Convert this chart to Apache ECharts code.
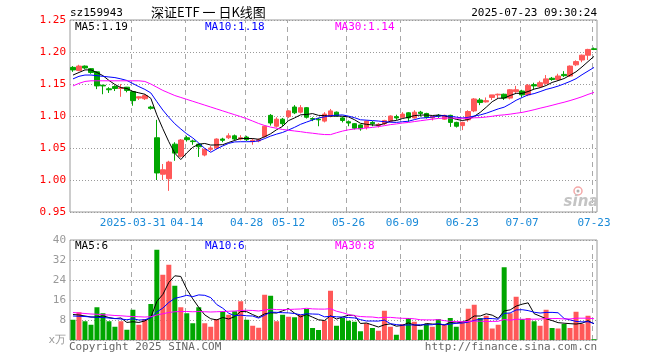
<!DOCTYPE html>
<html><head><meta charset="utf-8">
<script src="https://cdn.jsdelivr.net/npm/echarts@6/dist/echarts.min.js"></script>
<style>html,body{margin:0;padding:0;background:#fff}#c{width:660px;height:360px}</style>
</head><body><div id="c"></div>
<script>
const dates = [
'2025-03-17','2025-03-18','2025-03-19','2025-03-20','2025-03-21',
'2025-03-24','2025-03-25','2025-03-26','2025-03-27','2025-03-28',
'2025-03-31','2025-04-01','2025-04-02','2025-04-03',
'2025-04-07','2025-04-08','2025-04-09','2025-04-10','2025-04-11',
'2025-04-14','2025-04-15','2025-04-16','2025-04-17','2025-04-18',
'2025-04-21','2025-04-22','2025-04-23','2025-04-24','2025-04-25',
'2025-04-28','2025-04-29','2025-04-30',
'2025-05-06','2025-05-07','2025-05-08','2025-05-09',
'2025-05-12','2025-05-13','2025-05-14','2025-05-15','2025-05-16',
'2025-05-19','2025-05-20','2025-05-21','2025-05-22','2025-05-23',
'2025-05-26','2025-05-27','2025-05-28','2025-05-29','2025-05-30',
'2025-06-03','2025-06-04','2025-06-05','2025-06-06',
'2025-06-09','2025-06-10','2025-06-11','2025-06-12','2025-06-13',
'2025-06-16','2025-06-17','2025-06-18','2025-06-19','2025-06-20',
'2025-06-23','2025-06-24','2025-06-25','2025-06-26','2025-06-27',
'2025-06-30','2025-07-01','2025-07-02','2025-07-03','2025-07-04',
'2025-07-07','2025-07-08','2025-07-09','2025-07-10','2025-07-11',
'2025-07-14','2025-07-15','2025-07-16','2025-07-17','2025-07-18',
'2025-07-21','2025-07-22','2025-07-23'];

const opens = [1.176,1.171,1.178,1.174,1.169,1.148,1.1425,1.146,1.143,1.145,
1.138,1.128,1.127,1.114,1.066,1.009,1.002,1.056,1.037,1.066,
1.061,1.056,1.039,1.048,1.050,1.064,1.066,1.069,1.064,1.067,
1.060,1.061,1.068,1.101,1.084,1.095,1.099,1.114,1.106,1.113,
1.096,1.095,1.092,1.100,1.106,1.097,1.091,1.088,1.086,1.082,
1.090,1.085,1.088,1.092,1.099,1.098,1.105,1.097,1.106,1.104,
1.097,1.101,1.095,1.101,1.090,1.085,1.094,1.108,1.125,1.122,
1.129,1.133,1.134,1.128,1.138,1.139,1.133,1.149,1.146,1.151,
1.159,1.157,1.165,1.1625,1.180,1.1875,1.195,1.205];
const closes = [1.172,1.178,1.175,1.168,1.147,1.147,1.141,1.143,1.144,1.140,
1.124,1.130,1.132,1.112,1.011,1.016,1.028,1.042,1.0625,1.063,
1.060,1.052,1.048,1.050,1.064,1.062,1.069,1.064,1.066,1.063,
1.062,1.063,1.084,1.089,1.095,1.088,1.108,1.105,1.113,1.098,
1.095,1.094,1.103,1.108,1.100,1.093,1.089,1.081,1.080,1.092,
1.088,1.087,1.093,1.100,1.097,1.103,1.097,1.106,1.104,1.098,
1.099,1.100,1.101,1.090,1.084,1.090,1.107,1.1266,1.121,1.124,
1.133,1.134,1.128,1.141,1.141,1.133,1.148,1.147,1.152,1.158,
1.157,1.1625,1.163,1.178,1.185,1.195,1.204,1.204];
const lows = [1.169,1.170,1.173,1.166,1.142,1.134,1.136,1.139,1.130,1.137,
1.116,1.125,1.125,1.110,1.000,1.000,0.983,1.030,1.035,1.060,
1.055,1.036,1.037,1.045,1.048,1.059,1.064,1.062,1.062,1.061,
1.055,1.059,1.066,1.085,1.082,1.084,1.097,1.103,1.104,1.096,
1.092,1.084,1.090,1.098,1.099,1.090,1.084,1.079,1.077,1.079,
1.084,1.082,1.086,1.090,1.094,1.097,1.091,1.096,1.099,1.096,
1.093,1.097,1.094,1.083,1.082,1.078,1.091,1.106,1.117,1.121,
1.125,1.128,1.125,1.126,1.136,1.129,1.131,1.142,1.144,1.149,
1.155,1.155,1.161,1.161,1.178,1.184,1.1875,1.203];
const highs = [1.178,1.180,1.179,1.175,1.170,1.149,1.145,1.148,1.150,1.1455,
1.139,1.131,1.134,1.116,1.094,1.025,1.030,1.059,1.064,1.069,
1.063,1.057,1.049,1.053,1.065,1.066,1.073,1.071,1.070,1.069,
1.065,1.065,1.085,1.103,1.098,1.097,1.109,1.117,1.117,1.114,
1.098,1.097,1.106,1.111,1.107,1.099,1.093,1.089,1.087,1.093,
1.092,1.089,1.094,1.101,1.102,1.106,1.106,1.109,1.108,1.105,
1.100,1.103,1.102,1.102,1.091,1.091,1.109,1.128,1.128,1.129,
1.133,1.135,1.135,1.142,1.147,1.141,1.150,1.152,1.155,1.164,
1.161,1.166,1.170,1.179,1.187,1.196,1.205,1.207];
// volume, unit: 万
const volumes = [8.1,11.1,7.5,6.1,13.1,10.7,7.5,5.3,7.5,4.1,
12.1,6.1,8.4,14.4,36.1,26.1,30.1,21.7,13.1,10.7,
6.7,13.1,6.7,5.3,8.4,11.5,10.1,11.5,15.5,8.1,
5.7,4.9,18.1,17.7,7.5,10.1,9.3,9.1,10.1,12.4,
4.8,4.0,7.7,19.7,5.7,8.8,7.7,7.3,3.5,6.7,
4.8,3.7,11.7,5.3,2.1,6.4,8.8,7.3,4.1,6.4,
5.3,8.4,6.1,8.8,5.3,7.3,12.5,14.1,8.8,9.7,
4.6,6.1,29.1,10.7,17.3,8.4,8.8,7.5,5.7,12.1,
4.8,4.6,6.4,4.8,11.3,6.4,9.7,0.3];

// moving-average values before enough history exists
const priceMa5Head = [1.164,1.168,1.172,1.172];
const priceMa10Head = [1.158,1.162,1.164,1.164,1.163,1.162,1.161,1.160,1.158];
const priceMa30Head = [1.147,1.151,1.154,1.155,1.155,1.155,1.155,1.155,1.155,1.155,
1.155,1.155,1.154,1.150,1.145,1.140,1.136,1.132,1.129,1.126,
1.123,1.120,1.117,1.114,1.111,1.108,1.105,1.102,1.099];
const volMa5Head = [10.2,10.0,9.6,9.2];
const volMa10Head = [9.6,9.5,9.4,9.2,9.1,9.0,8.8,8.6,8.4];
const volMa30Head = [11.0,10.8,10.6,10.4,10.3,10.1,10.0,9.8,9.7,9.5,
9.4,9.3,9.2,9.3,10.0,10.5,11.0,11.3,11.4,11.4,
11.3,11.4,11.3,11.2,11.3,11.4,11.5,11.6,11.8];

const labelDates = ['2025-03-31','2025-04-14','2025-04-28','2025-05-12','2025-05-26','2025-06-09','2025-06-23','2025-07-07','2025-07-23'];
const priceTicks = {min:0.95, max:1.25, step:0.05};
const volTicks = {min:0, max:40, step:8};
const priceLegend = ['MA5:1.19','MA10:1.18','MA30:1.14'];
const volLegend = ['MA5:6','MA10:6','MA30:8'];
const titleText = {code:'sz159943', name:'深证ETF 一 日K线图', time:'2025-07-23 09:30:24'};
const footer = ['Copyright 2025 SINA.COM','http://finance.sina.com.cn'];

function movingAvg(vals, n, head, dec) {
  return vals.map((v, i) => {
    if (i < n - 1) return head[i];
    let s = 0; for (let k = i - n + 1; k <= i; k++) s += vals[k];
    return +(s / n).toFixed(dec);
  });
}
const UP = '#ff5858', DOWN = '#00a600';
const MA_COL = ['#000000', '#0000ff', '#ff00ff'];
const labelIdx = labelDates.map(d => dates.indexOf(d));
const MONO = '"DejaVu Sans Mono", "Liberation Mono", monospace';

const kData = dates.map((d, i) => [opens[i], closes[i], lows[i], highs[i]]);
const volData = volumes.map((v, i) => ({value: v, itemStyle: {color: closes[i] >= opens[i] ? UP : DOWN}}));

const pMa = [movingAvg(closes,5,priceMa5Head,4), movingAvg(closes,10,priceMa10Head,4), movingAvg(closes,30,priceMa30Head,4)];
const vMa = [movingAvg(volumes,5,volMa5Head,2), movingAvg(volumes,10,volMa10Head,2), movingAvg(volumes,30,volMa30Head,2)];

const GL = 70, GW = 527;
const GRID_TOP = [20, 240], GRID_H = [192, 100];
function xAxisCfg(gi, showLabel) {
  return {
    type: 'category', data: dates, gridIndex: gi, boundaryGap: true,
    axisLine: {show: false}, axisTick: {show: false},
    axisLabel: {
      show: showLabel, interval: (i) => labelIdx.indexOf(i) >= 0, color: '#1a8ad8', fontFamily: MONO, fontSize: 11, margin: 6,
      formatter: (v) => v === labelDates[0] ? v : v.slice(5)
    },
    splitLine: {show: false}
  };
}

const chart = echarts.init(document.getElementById('c'), null, {renderer: 'canvas'});
const lineSeries = (data, color, xi, yi) => ({
  type: 'line', data, xAxisIndex: xi, yAxisIndex: yi, symbol: 'none', showSymbol: false, silent: true,
  lineStyle: {color, width: 1}, itemStyle: {color}, animation: false, z: 5
});

// vertical dashed guides: a custom series whose x comes from the category axis
const guideSeries = (gi) => ({
  type: 'custom', xAxisIndex: gi, yAxisIndex: gi, silent: true, z: 2, clip: false,
  data: labelDates.map(d => [d, gi === 0 ? priceTicks.min : volTicks.min]),
  encode: {x: 0, y: 1},
  renderItem: (params, api) => {
    const p = api.coord([api.value(0), api.value(1)]);
    const x = Math.round(p[0]) - 1.5;
    const segs = [];
    const top = GRID_TOP[gi], bot = GRID_TOP[gi] + GRID_H[gi];
    for (let y = bot; y > top; y -= 9) {
      segs.push({type: 'rect', shape: {x: x - 0.5, y: Math.max(top, y - 5), width: 1, height: Math.min(5, y - top)},
        style: {fill: '#a8a8a8'}});
    }
    return {type: 'group', children: segs};
  }
});

const gtext = (text, x, y, fill, font, align) => ({
  type: 'text', silent: true, z: 100,
  style: {text, x, y, fill, font, textAlign: align || 'left', textVerticalAlign: 'middle'}
});

chart.setOption({
  animation: false,
  backgroundColor: '#fff',
  grid: [
    {left: GL, top: GRID_TOP[0], width: GW, height: GRID_H[0], show: true, borderColor: '#9a9a9a', borderWidth: 1},
    {left: GL, top: GRID_TOP[1], width: GW, height: GRID_H[1], show: true, borderColor: '#9a9a9a', borderWidth: 1}
  ],
  xAxis: [xAxisCfg(0, true), xAxisCfg(1, false)],
  yAxis: [
    {type: 'value', gridIndex: 0, min: priceTicks.min, max: priceTicks.max, interval: priceTicks.step,
     axisLine: {show: false}, axisTick: {show: false},
     axisLabel: {color: '#ff0000', fontFamily: MONO, fontSize: 11, margin: 4, formatter: (v) => v.toFixed(2)},
     splitLine: {show: true, lineStyle: {color: '#9a9a9a', type: [1, 2], width: 1}}},
    {type: 'value', gridIndex: 1, min: volTicks.min, max: volTicks.max, interval: volTicks.step,
     axisLine: {show: false}, axisTick: {show: false},
     axisLabel: {color: '#999999', fontFamily: MONO, fontSize: 11, margin: 4, formatter: (v) => v === 0 ? 'x万' : String(v)},
     splitLine: {show: true, lineStyle: {color: '#9a9a9a', type: [1, 2], width: 1}}}
  ],
  series: [
    guideSeries(0),
    guideSeries(1),
    {type: 'candlestick', data: kData, xAxisIndex: 0, yAxisIndex: 0, barWidth: 5, silent: true, z: 3,
     itemStyle: {color: UP, color0: DOWN, borderColor: UP, borderColor0: DOWN, borderWidth: 1}},
    lineSeries(pMa[0], MA_COL[0], 0, 0),
    lineSeries(pMa[1], MA_COL[1], 0, 0),
    lineSeries(pMa[2], MA_COL[2], 0, 0),
    {type: 'bar', data: volData, xAxisIndex: 1, yAxisIndex: 1, barWidth: 5, silent: true, z: 3},
    lineSeries(vMa[0], MA_COL[0], 1, 1),
    lineSeries(vMa[1], MA_COL[1], 1, 1),
    lineSeries(vMa[2], MA_COL[2], 1, 1)
  ],
  graphic: [
    gtext(titleText.code, 70, 13, '#000', '11px ' + MONO),
    gtext(titleText.name, 151, 12, '#000', '13px "Noto Sans CJK SC", sans-serif'),
    gtext(titleText.time, 597, 13, '#000', '11px ' + MONO, 'right'),
    gtext(priceLegend[0], 75, 27, MA_COL[0], '11px ' + MONO),
    gtext(priceLegend[1], 205, 27, MA_COL[1], '11px ' + MONO),
    gtext(priceLegend[2], 335, 27, MA_COL[2], '11px ' + MONO),
    gtext(volLegend[0], 75, 246, MA_COL[0], '11px ' + MONO),
    gtext(volLegend[1], 205, 246, MA_COL[1], '11px ' + MONO),
    gtext(volLegend[2], 335, 246, MA_COL[2], '11px ' + MONO),
    gtext(footer[0], 69, 347, '#666', '11px ' + MONO),
    gtext(footer[1], 597, 347, '#666', '11px ' + MONO, 'right'),
    {type: 'circle', silent: true, z: 1, shape: {cx: 578, cy: 191, r: 4}, style: {fill: 'none', stroke: '#f4a8a8', lineWidth: 1.5}},
    {type: 'circle', silent: true, z: 1, shape: {cx: 578, cy: 191, r: 1.5}, style: {fill: '#b0b0b0'}},
    gtext('sina', 581, 202, '#c4c4c4', 'italic bold 15px "DejaVu Sans", sans-serif', 'center')
  ]
});
</script></body></html>
